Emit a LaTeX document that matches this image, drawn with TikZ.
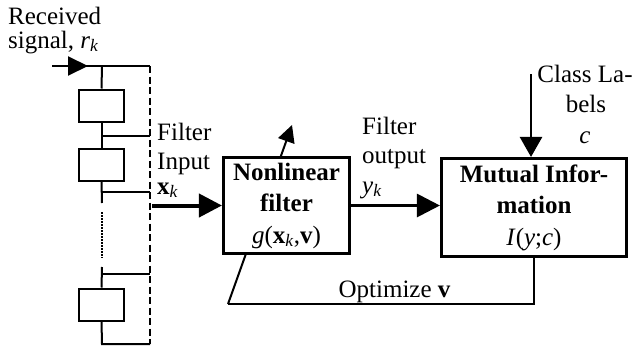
\documentclass[tikz,border=0pt]{standalone}
\usepackage{fontspec}
\setmainfont{Liberation Serif}
\usetikzlibrary{arrows.meta}
\newcommand{\subk}{\textsubscript{\textit{k}}}
\begin{document}
\begin{tikzpicture}[x=1pt,y=-1pt,
  every node/.style={font=\fontsize{25}{30}\selectfont},
  lbl/.style={inner sep=0pt},
  delaybox/.style={draw, line width=2pt, minimum width=45pt, minimum height=32pt, inner sep=0pt},
  block/.style={draw, fill=white, line width=2.6pt, align=center, inner sep=0pt,
                font=\fontsize{25}{31.5}\selectfont},
  wire/.style={line width=2pt},
  bus/.style={line width=2pt, dash pattern=on 7pt off 3.5pt},
  dotwire/.style={line width=1.5pt, dash pattern=on 1.5pt off 1.5pt},
  headS/.style={-{Triangle[length=20pt,width=19pt]}},
  headM/.style={-{Triangle[length=17pt,width=17pt]}},
  headL/.style={-{Triangle[length=23pt,width=23pt]}}
]
\useasboundingbox (0,0) rectangle (636,351);

% tapped delay line
\coordinate (rin)  at (52,66);
\coordinate (atip) at (88,66);
\coordinate (jtop) at (102,66);
\coordinate (dtop) at (150,66);
\coordinate (t1) at (102,136); \coordinate (e1) at (150,136);
\coordinate (t2) at (102,192); \coordinate (e2) at (150,192);
\coordinate (g1) at (102,203);
\coordinate (dotA) at (102,212); \coordinate (dotB) at (102,258);
\coordinate (g2) at (102,267);
\coordinate (t3) at (102,274); \coordinate (e3) at (150,274);
\coordinate (jbot) at (102,344); \coordinate (dbot) at (150,344);

\node[delaybox] (d1) at (101.5,105.5) {};
\node[delaybox] (d2) at (101.5,165) {};
\node[delaybox] (d3) at (101.5,304.5) {};

\draw[wire] (rin) -- (dtop);
\draw[wire, headS] (rin) -- (atip);
\draw[wire] (jtop) -- (d1.north);
\draw[wire] (d1.south) -- (d2.north);
\draw[wire] (d2.south) -- (g1);
\draw[dotwire] (dotA) -- (dotB);
\draw[wire] (g2) -- (d3.north);
\draw[wire] (d3.south) -- (jbot) -- (dbot);
\draw[wire] (t1) -- (e1);
\draw[wire] (t2) -- (e2);
\draw[wire] (t3) -- (e3);
\draw[bus] (dtop) -- (dbot);

% labels of the input side
\node[lbl, anchor=base west] (rx1) at (8,24) {Received};
\node[lbl, anchor=base west] (rx2) at (8,48) {signal, \textit{r}\subk};
\node[lbl, anchor=base west] (fi1) at (157,140) {Filter};
\node[lbl, anchor=base west] (fi2) at (157,169) {Input};
\node[lbl, anchor=base west] (fi3) at (157,194) {\textbf{x}\subk};

% adaptation path (drawn first so the filter block covers it)
\coordinate (fb) at (228,304);
\coordinate (adj) at (292,125);
\draw[wire, headM] (fb) -- (adj);

% processing blocks
\node[block, minimum width=126.5pt, minimum height=96.5pt] (nl) at (286.5,205.5)
  {\textbf{Nonlinear}\\\textbf{filter}\\\textit{g}(\textbf{x}\subk,\textbf{v})};
\node[block, minimum width=185.5pt, minimum height=98.5pt] (mi) at (534,207.5)
  {\textbf{Mutual Infor-}\\\textbf{mation}\\\textit{I}(\textit{y};\textit{c})};

\coordinate (xin) at (152,205.5);
\draw[line width=4pt, headL] (xin) -- (nl.west);
\draw[line width=3pt, headL] (nl.east) -- (nl.east -| mi.west);

\node[lbl, anchor=base west] (fo1) at (362,134) {Filter};
\node[lbl, anchor=base west] (fo2) at (362,163) {output};
\node[lbl, anchor=base west] (fo3) at (362,193) {\textit{y}\subk};

% class labels
\coordinate (cl) at (531,74);
\draw[line width=2.6pt, -{Triangle[length=20pt,width=22pt]}] (cl) -- (cl |- mi.north);
\node[lbl, anchor=base] (cl1) at (585,82) {Class La-};
\node[lbl, anchor=base] (cl2) at (586,112) {bels};
\node[lbl, anchor=base] (cl3) at (585,143) {\textit{c}};

% feedback
\draw[wire] (mi.south) -- (mi.south |- fb) -- (fb);
\node[lbl, anchor=base] (opt) at (394.5,297) {Optimize \textbf{v}};
\end{tikzpicture}
\end{document}
